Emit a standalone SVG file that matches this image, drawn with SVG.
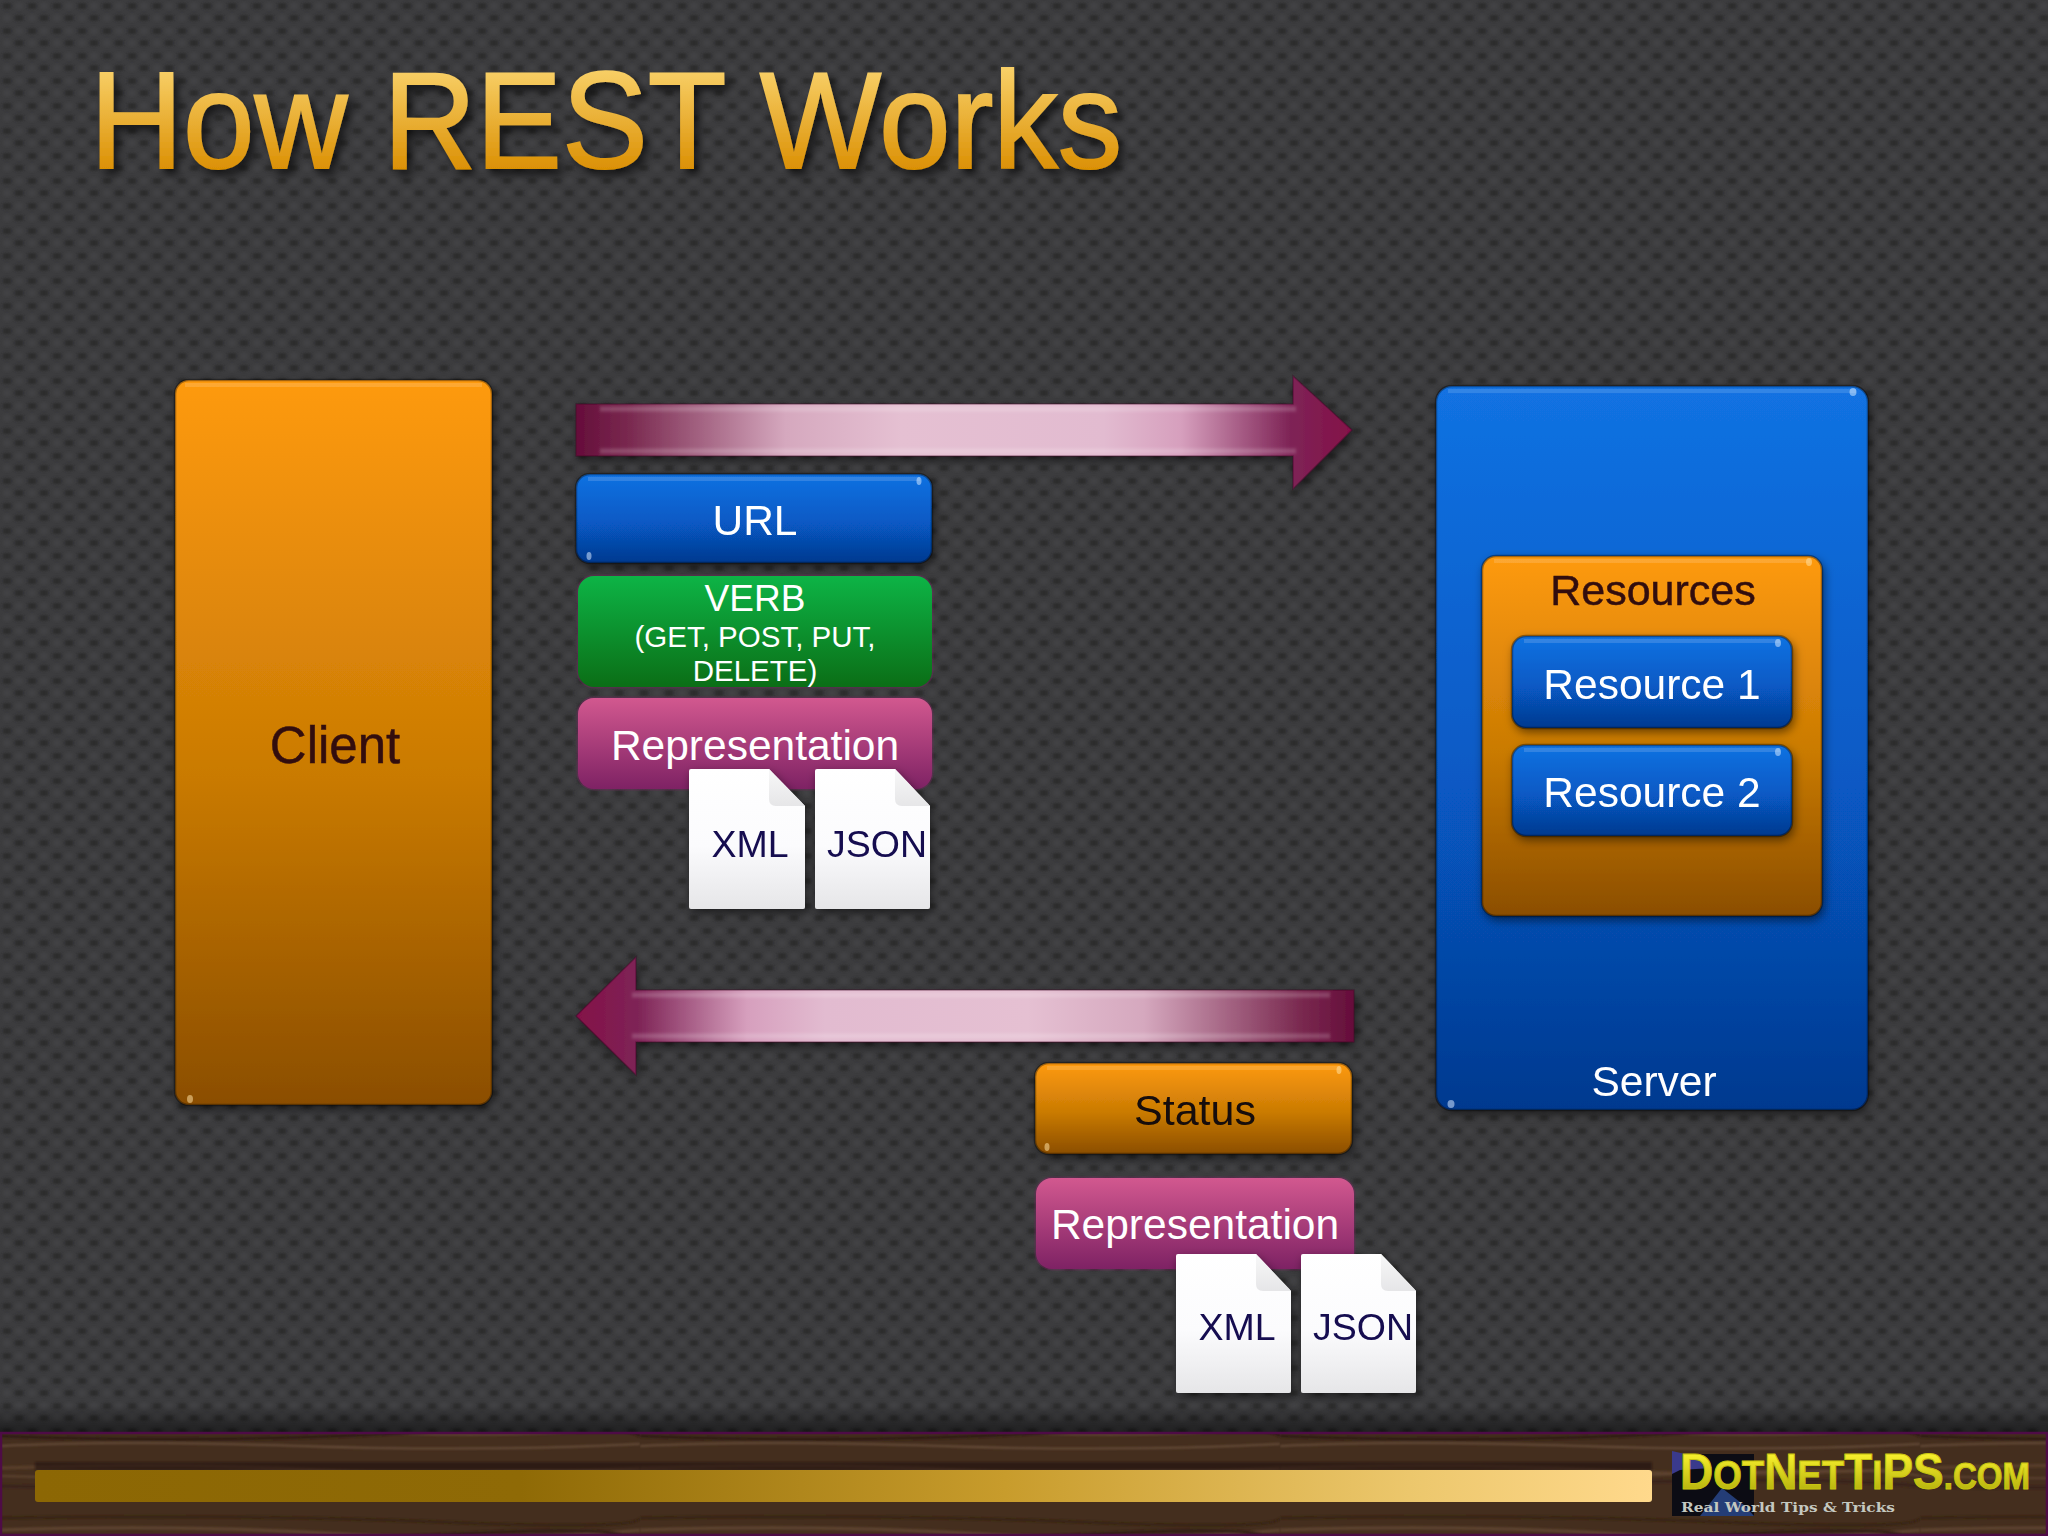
<svg xmlns="http://www.w3.org/2000/svg" width="2048" height="1536" viewBox="0 0 2048 1536">
<defs>
<filter id="b1" x="-20%" y="-20%" width="140%" height="140%"><feGaussianBlur stdDeviation="1.4"/></filter>
<filter id="b2" x="-30%" y="-300%" width="160%" height="700%"><feGaussianBlur stdDeviation="1.6"/></filter>
<filter id="b3" x="-5%" y="-30%" width="110%" height="160%"><feGaussianBlur stdDeviation="0.8"/></filter>
<pattern id="dots" width="50" height="50" patternUnits="userSpaceOnUse">
<rect width="50" height="50" fill="#3c3c3e"/>
<g filter="url(#b1)">
<g fill="#29292b">
<ellipse cx="7" cy="6" rx="4.5" ry="3.2"/><ellipse cx="32" cy="6" rx="4.5" ry="3.2"/>
<ellipse cx="19" cy="18" rx="4.5" ry="3.2"/><ellipse cx="44" cy="18" rx="4.5" ry="3.2"/>
<ellipse cx="7" cy="31" rx="4.5" ry="3.2"/><ellipse cx="32" cy="31" rx="4.5" ry="3.2"/>
<ellipse cx="19" cy="43" rx="4.5" ry="3.2"/><ellipse cx="44" cy="43" rx="4.5" ry="3.2"/>
</g>
<g fill="#434345">
<ellipse cx="19" cy="6" rx="4" ry="3"/><ellipse cx="44" cy="6" rx="4" ry="3"/>
<ellipse cx="7" cy="18" rx="4" ry="3"/><ellipse cx="32" cy="18" rx="4" ry="3"/>
<ellipse cx="19" cy="31" rx="4" ry="3"/><ellipse cx="44" cy="31" rx="4" ry="3"/>
<ellipse cx="7" cy="43" rx="4" ry="3"/><ellipse cx="32" cy="43" rx="4" ry="3"/>
</g>
</g>
</pattern>
<pattern id="wood" width="640" height="104" patternUnits="userSpaceOnUse">
<rect width="640" height="104" fill="#442e1e"/>
<g fill="none" filter="url(#b3)">
<path d="M0 12Q180 6 320 14T640 12" stroke="#5a3f2c" stroke-width="3"/>
<path d="M0 20Q200 26 400 18T640 20" stroke="#634836" stroke-width="1.5"/>
<path d="M0 30Q160 34 340 27T640 30" stroke="#38241a" stroke-width="3"/>
<path d="M0 74Q180 68 340 78T640 74" stroke="#5e4430" stroke-width="3"/>
<path d="M0 84Q220 92 420 80T640 84" stroke="#2f1e14" stroke-width="3"/>
<path d="M0 94Q120 88 300 94T640 92" stroke="#6e5440" stroke-width="1.5"/>
<path d="M0 62Q240 58 440 66T640 62" stroke="#33200f" stroke-width="2"/>
</g>
</pattern>
<linearGradient id="title" gradientUnits="userSpaceOnUse" x1="0" y1="70" x2="0" y2="170"><stop offset="0" stop-color="#f8cf66"/><stop offset="1" stop-color="#db9004"/></linearGradient>
<linearGradient id="orange" x1="0" y1="0" x2="0" y2="1"><stop offset="0" stop-color="#fe9a0e"/><stop offset="0.55" stop-color="#c97a04"/><stop offset="1" stop-color="#8b4e00"/></linearGradient>
<linearGradient id="blue" x1="0" y1="0" x2="0" y2="1"><stop offset="0" stop-color="#1272e2"/><stop offset="0.55" stop-color="#0759c4"/><stop offset="1" stop-color="#05398f"/></linearGradient>
<linearGradient id="green" x1="0" y1="0" x2="0" y2="1"><stop offset="0" stop-color="#0db446"/><stop offset="1" stop-color="#0b6e16"/></linearGradient>
<linearGradient id="pink" x1="0" y1="0" x2="0" y2="1"><stop offset="0" stop-color="#d2588f"/><stop offset="1" stop-color="#7e2264"/></linearGradient>
<linearGradient id="doc" x1="0" y1="0" x2="0" y2="1"><stop offset="0" stop-color="#ffffff"/><stop offset="0.55" stop-color="#fbfbfd"/><stop offset="1" stop-color="#e6e6e8"/></linearGradient>
<linearGradient id="fold" x1="0" y1="0" x2="0" y2="1"><stop offset="0" stop-color="#f8f8f8"/><stop offset="1" stop-color="#e6e6e8"/></linearGradient>
<linearGradient id="arrowR" gradientUnits="userSpaceOnUse" x1="576" y1="0" x2="1352" y2="0"><stop offset="0" stop-color="#650d3a"/><stop offset="0.07" stop-color="#7a2a50"/><stop offset="0.27" stop-color="#d5a8be"/><stop offset="0.42" stop-color="#e5c0d2"/><stop offset="0.68" stop-color="#e2bbd0"/><stop offset="0.78" stop-color="#d69fbd"/><stop offset="0.92" stop-color="#7e2456"/><stop offset="1" stop-color="#841048"/></linearGradient>
<linearGradient id="arrowL" gradientUnits="userSpaceOnUse" x1="1354" y1="0" x2="576" y2="0"><stop offset="0" stop-color="#650d3a"/><stop offset="0.07" stop-color="#7a2a50"/><stop offset="0.27" stop-color="#d5a8be"/><stop offset="0.42" stop-color="#e5c0d2"/><stop offset="0.68" stop-color="#e2bbd0"/><stop offset="0.78" stop-color="#d69fbd"/><stop offset="0.92" stop-color="#7e2456"/><stop offset="1" stop-color="#841048"/></linearGradient>
<linearGradient id="bar" x1="0" y1="0" x2="1" y2="0"><stop offset="0" stop-color="#8c6704"/><stop offset="0.3" stop-color="#8f6a06"/><stop offset="0.6" stop-color="#c89c2c"/><stop offset="0.85" stop-color="#ecc76c"/><stop offset="1" stop-color="#ffd98c"/></linearGradient>
<linearGradient id="logo" x1="0" y1="0" x2="0" y2="1"><stop offset="0.2" stop-color="#f6ee2c"/><stop offset="1" stop-color="#a6a406"/></linearGradient>
<linearGradient id="fade" x1="0" y1="0" x2="0" y2="1"><stop offset="0" stop-color="#000" stop-opacity="0"/><stop offset="1" stop-color="#000" stop-opacity=".5"/></linearGradient>
<filter id="shadow" x="-10%" y="-10%" width="120%" height="125%"><feDropShadow dx="2" dy="4" stdDeviation="5" flood-color="#000" flood-opacity="0.5"/></filter>
<filter id="tshadow" x="-5%" y="-10%" width="110%" height="130%"><feDropShadow dx="5" dy="6" stdDeviation="4" flood-color="#000" flood-opacity="0.6"/></filter>
</defs>
<style>
text{font-family:"Liberation Sans",Arial,sans-serif;text-anchor:middle}
.l{fill:#fff;font-size:42.5px}
.d{fill:#33100c;font-size:43px;stroke:#33100c;stroke-width:.5}
.n{fill:#120a50;font-size:37.5px}
.edge{fill:none;stroke:#000;stroke-opacity:.35;stroke-width:2.5}
.hi{fill:none;stroke:#fff;stroke-opacity:.14;stroke-width:4}
.g{fill:#cfe8ff;opacity:.55}
.arr{stroke:#3a0420;stroke-opacity:.4;stroke-width:1.5}
.st{fill:none;stroke:#fff;stroke-opacity:.18;stroke-width:5}
.halo{fill:none;stroke:#7e2264;stroke-opacity:.35;stroke-width:3}
</style>
<rect width="2048" height="1536" fill="url(#dots)"/>
<rect y="1405" width="2048" height="27" fill="url(#fade)"/>
<g id="title"><text x="90" y="168" style="text-anchor:start" font-size="137" fill="url(#title)" stroke="url(#title)" stroke-width="2" filter="url(#tshadow)" textLength="1032" lengthAdjust="spacingAndGlyphs">How REST Works</text></g>

<g id="connectors">
<g id="arrow-request">
<path class="arr" filter="url(#shadow)" fill="url(#arrowR)" d="M576 404H1293V376L1352 430L1293 489V456H576Z"/>
<path class="st" filter="url(#b2)" d="M600 409H1296M600 451H1296"/>
</g>
<g id="arrow-response">
<path class="arr" filter="url(#shadow)" fill="url(#arrowL)" d="M1354 990H636V957L576 1016L636 1075V1042H1354Z"/>
<path class="st" filter="url(#b2)" d="M632 995H1330M632 1036H1330"/>
</g>
</g>

<g id="client" filter="url(#shadow)"><rect x="175" y="380" width="317" height="725" rx="14" fill="url(#orange)"/><rect class="edge" x="175" y="380" width="317" height="725" rx="14"/><path class="hi" d="M185 385H482"/><ellipse class="g" cx="190" cy="1099" rx="3" ry="4" style="fill:#ffe0a0"/><text class="d" x="335" y="763" style="font-size:51px">Client</text></g>

<g id="server" filter="url(#shadow)"><rect x="1436" y="386" width="432" height="724" rx="16" fill="url(#blue)"/><rect class="edge" x="1436" y="386" width="432" height="724" rx="16"/><path class="hi" d="M1448 391H1856"/><ellipse class="g" cx="1853" cy="392" rx="3.5" ry="4"/><ellipse class="g" cx="1451" cy="1104" rx="3.5" ry="4"/><text class="l" x="1654" y="1096">Server</text></g>
<g id="resources" filter="url(#shadow)"><rect x="1482" y="556" width="340" height="360" rx="14" fill="url(#orange)"/><rect class="edge" x="1482" y="556" width="340" height="360" rx="14"/><path class="hi" d="M1494 561H1810"/><ellipse class="g" cx="1809" cy="562" rx="3" ry="4" style="fill:#ffe0a0"/><text class="d" x="1653" y="605">Resources</text></g>
<g id="resource1" filter="url(#shadow)"><rect x="1512" y="636" width="280" height="92" rx="14" fill="url(#blue)"/><rect class="edge" x="1512" y="636" width="280" height="92" rx="14"/><path class="hi" d="M1524 641H1780"/><ellipse class="g" cx="1778" cy="643" rx="3" ry="4"/><text class="l" x="1652" y="699">Resource 1</text></g>
<g id="resource2" filter="url(#shadow)"><rect x="1512" y="745" width="280" height="91" rx="14" fill="url(#blue)"/><rect class="edge" x="1512" y="745" width="280" height="91" rx="14"/><path class="hi" d="M1524 750H1780"/><ellipse class="g" cx="1778" cy="752" rx="3" ry="4"/><text class="l" x="1652" y="807">Resource 2</text></g>

<g id="url" filter="url(#shadow)"><rect x="576" y="474" width="356" height="89" rx="14" fill="url(#blue)"/><rect class="edge" x="576" y="474" width="356" height="89" rx="14"/><path class="hi" d="M588 479H920"/><ellipse class="g" cx="919" cy="481" rx="2.5" ry="4"/><ellipse class="g" cx="589" cy="556" rx="2.5" ry="4"/><text class="l" x="755" y="535">URL</text></g>
<g id="verb"><rect class="halo" x="578" y="576" width="354" height="111" rx="16"/><rect x="578" y="576" width="354" height="111" rx="16" fill="url(#green)"/><text class="l" x="755" y="611" style="font-size:37px">VERB</text><text class="l" x="755" y="647" style="font-size:29.5px">(GET, POST, PUT,</text><text class="l" x="755" y="681" style="font-size:29.5px">DELETE)</text></g>
<g id="representation1"><rect class="halo" x="578" y="698" width="354" height="91" rx="16"/><rect x="578" y="698" width="354" height="91" rx="16" fill="url(#pink)"/><text class="l" x="755" y="760">Representation</text></g>
<g id="xml1" filter="url(#shadow)"><path d="M689 771Q689 769 691 769H769L805 806V907Q805 909 803 909H691Q689 909 689 907Z" fill="url(#doc)"/><path d="M769 769V799Q769 806 776 806H805Z" fill="url(#fold)"/><text class="n" x="750" y="857">XML</text></g>
<g id="json1" filter="url(#shadow)"><path d="M815 771Q815 769 817 769H895L930 806V907Q930 909 928 909H817Q815 909 815 907Z" fill="url(#doc)"/><path d="M895 769V799Q895 806 902 806H930Z" fill="url(#fold)"/><text class="n" x="877" y="857">JSON</text></g>

<g id="status" filter="url(#shadow)"><rect x="1035" y="1063" width="317" height="91" rx="14" fill="url(#orange)"/><rect class="edge" x="1035" y="1063" width="317" height="91" rx="14"/><path class="hi" d="M1047 1068H1340"/><ellipse class="g" cx="1339" cy="1070" rx="2.5" ry="4" style="fill:#ffe0a0"/><ellipse class="g" cx="1047" cy="1147" rx="2.5" ry="4" style="fill:#ffe0a0"/><text class="d" x="1195" y="1125" style="fill:#120a08;stroke:none">Status</text></g>
<g id="representation2"><rect class="halo" x="1036" y="1178" width="318" height="91" rx="16"/><rect x="1036" y="1178" width="318" height="91" rx="16" fill="url(#pink)"/><text class="l" x="1195" y="1239">Representation</text></g>
<g id="xml2" filter="url(#shadow)"><path d="M1176 1256Q1176 1254 1178 1254H1256L1291 1291V1391Q1291 1393 1289 1393H1178Q1176 1393 1176 1391Z" fill="url(#doc)"/><path d="M1256 1254V1284Q1256 1291 1263 1291H1291Z" fill="url(#fold)"/><text class="n" x="1237" y="1340">XML</text></g>
<g id="json2" filter="url(#shadow)"><path d="M1301 1256Q1301 1254 1303 1254H1381L1416 1291V1391Q1416 1393 1414 1393H1303Q1301 1393 1301 1391Z" fill="url(#doc)"/><path d="M1381 1254V1284Q1381 1291 1388 1291H1416Z" fill="url(#fold)"/><text class="n" x="1363" y="1340">JSON</text></g>

<g id="footer">
<rect x="0" y="1432" width="2048" height="104" fill="url(#wood)"/>
<path d="M0 1433H2048M0 1535H2048M1 1432V1536M2047 1432V1536" stroke="#4e0c46" stroke-width="2.5" fill="none"/>
<rect x="35" y="1462" width="1617" height="8" fill="#1c0c08" opacity=".55" filter="url(#b3)"/>
<rect x="35" y="1470" width="1617" height="32" rx="3" fill="url(#bar)"/>
<rect x="1672" y="1454" width="82" height="62" fill="#0c0c14"/>
<path d="M1672 1451L1694 1456L1712 1468L1680 1470L1672 1474Z" fill="#3a3a8c"/>
<path d="M1700 1516L1722 1488L1745 1506L1754 1516Z" fill="#2a4a90" opacity=".8"/>
<text x="1680" y="1489" style="text-anchor:start;font-weight:700" font-size="50" fill="url(#logo)" stroke="#c8c410" stroke-width="1" textLength="350" lengthAdjust="spacingAndGlyphs">D<tspan font-size="40">OT</tspan>N<tspan font-size="40">ET</tspan>T<tspan font-size="40">I</tspan>PS<tspan font-size="36">.COM</tspan></text>
<text x="1681" y="1512" style="text-anchor:start;font-family:'DejaVu Serif',serif;font-weight:700" font-size="12" fill="#c4c8c0" textLength="214" lengthAdjust="spacingAndGlyphs">Real World Tips &amp; Tricks</text>
</g>
</svg>
